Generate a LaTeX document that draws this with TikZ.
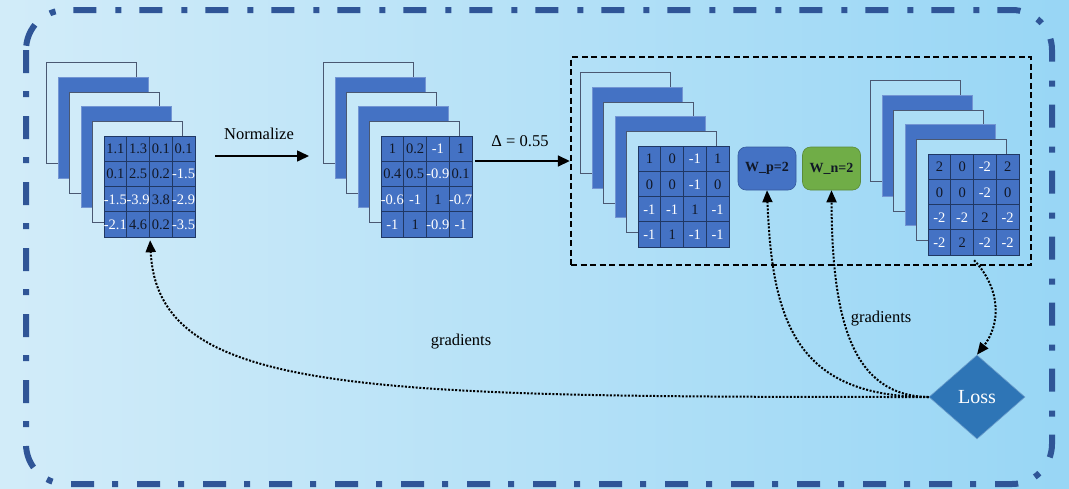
\documentclass[tikz,border=0pt]{standalone}
\usepackage{fontspec}
\setmainfont{Liberation Serif}
\usetikzlibrary{shapes.geometric,arrows.meta,calc}

\definecolor{bgL}{HTML}{D2ECF9}
\definecolor{bgR}{HTML}{98D6F5}
\definecolor{framecol}{HTML}{2F5597}
\definecolor{cellblue}{HTML}{4472C4}
\definecolor{cellline}{HTML}{203864}
\definecolor{sheetline}{HTML}{4A5872}
\definecolor{wngreen}{HTML}{70AD47}
\definecolor{lossblue}{HTML}{2E75B6}
\definecolor{darktxt}{HTML}{111827}

\tikzset{
  frameline/.style={draw=framecol, line width=6pt,
    dash pattern=on 23pt off 18pt on 6pt off 19pt, rounded corners=40pt},
  sheetpale/.style={draw=sheetline, line width=0.9pt, minimum width=90pt,
    minimum height=101pt, inner sep=0pt, anchor=north west},
  sheetblue/.style={fill=cellblue, draw=cellblue!75!white, line width=0.8pt,
    minimum width=90pt, minimum height=101pt, inner sep=0pt, anchor=north west},
  gridbox/.style={draw=cellline, fill=cellblue, line width=1.2pt,
    minimum width=91pt, minimum height=101pt, inner sep=0pt, anchor=north west},
  cellk/.style={text=darktxt, font=\fontsize{14.5}{14.5}\selectfont, inner sep=0pt},
  cellw/.style={cellk, text=white},
  lbl/.style={font=\fontsize{16.5}{18}\selectfont, inner sep=0pt},
  arr/.style={-{Triangle[length=12pt,width=11pt]}, line width=1.6pt},
  gradline/.style={line width=2pt, dash pattern=on 2pt off 1.6pt,
    -{Triangle[length=12pt,width=10pt]}},
  wbox/.style={rounded corners=8pt, minimum width=58pt, minimum height=43pt,
    font=\bfseries\fontsize{14}{14}\selectfont, text=darktxt, inner sep=0pt},
  dashbox/.style={draw=black, line width=2.4pt, dash pattern=on 6pt off 3.5pt,
    minimum width=460pt, minimum height=208pt, inner sep=0pt},
}

% A stack of five sheets with a 4x4 value grid on top.
% #1,#2: top-left of the rear sheet; #3: grid name; #4: pale sheet fill; #5: cells
\newcommand\layerstack[5]{%
  \foreach \k in {0,...,4} {
    \pgfmathsetmacro\sx{#1+11.6*\k}
    \pgfmathsetmacro\sy{#2+14.8*\k}
    \ifodd\k
      \node[sheetblue] (#3-s\k) at (\sx,\sy) {};
    \else
      \node[sheetpale, fill=#4] (#3-s\k) at (\sx,\sy) {};
    \fi
  }
  \node[gridbox] (#3) at (#1+58,#2+74) {};
  \foreach \i in {1,2,3}
    \draw[cellline, line width=0.8pt]
      ($(#3.north west)+(\i*22.75,0)$) -- ($(#3.south west)+(\i*22.75,0)$);
  \foreach \j/\w in {1/0.8,2/1.8,3/0.8}
    \draw[cellline, line width=\w pt]
      ($(#3.north west)+(0,\j*25.25)$) -- ($(#3.north east)+(0,\j*25.25)$);
  \foreach \c/\v [count=\n from 0] in {#5} {
    \pgfmathtruncatemacro\row{int(\n/4)}
    \pgfmathtruncatemacro\col{mod(\n,4)}
    \node[cell\c] (#3-\n) at ($(#3.north west)+(11.375+22.75*\col,13+25.25*\row)$) {\v};
  }
}

\begin{document}
\begin{tikzpicture}[x=1pt, y=-1pt]
\useasboundingbox (0,0) rectangle (1069,488);
\shade[left color=bgL, right color=bgR] (0,0) rectangle (1069,488);

% outer dash-dotted frame
\draw[frameline] (26,10) rectangle (1052,484);

% feature stacks
\layerstack{46}{62}{g1}{bgL!96!bgR}{k/1.1,k/1.3,k/0.1,k/0.1,k/0.1,k/2.5,k/0.2,w/-1.5,w/-1.5,w/-3.9,k/3.8,w/-2.9,w/-2.1,k/4.6,k/0.2,w/-3.5}
\layerstack{323}{62}{g2}{bgL!80!bgR}{k/1,k/0.2,w/-1,k/1,k/0.4,k/0.5,w/-0.9,k/0.1,w/-0.6,w/-1,k/1,w/-0.7,w/-1,k/1,w/-0.9,w/-1}

% quantisation block
\node[dashbox] (bx) at (801,161) {};
\layerstack{580}{72}{g3}{bgL!52!bgR}{k/1,k/0,w/-1,k/1,k/0,k/0,w/-1,k/0,w/-1,w/-1,k/1,w/-1,w/-1,k/1,w/-1,w/-1}
\layerstack{870}{80}{g4}{bgL!35!bgR}{k/2,k/0,w/-2,k/2,k/0,k/0,w/-2,k/0,w/-2,w/-2,k/2,w/-2,w/-2,k/2,w/-2,w/-2}

\node[wbox, fill=cellblue, draw=cellblue!80!black, line width=0.6pt] (wp) at (767,168.5) {W\_p=2};
\node[wbox, fill=wngreen, draw=wngreen!80!black, line width=0.6pt] (wn) at (831.5,168.5) {W\_n=2};

\node[diamond, fill=lossblue, draw=lossblue!70!white, line width=0.6pt,
      minimum width=96pt, minimum height=84pt, aspect=1.14, inner sep=0pt,
      text=white, font=\fontsize{20}{20}\selectfont] (loss) at (977,397) {Loss};

% forward arrows
\coordinate (nA) at (215,156);
\coordinate (nB) at (309,156);
\draw[arr] (nA) -- (nB);
\node[lbl] (tnorm) at (259,134) {Normalize};

\coordinate (dA) at (475,161);
\draw[arr] (dA) -- (bx.west);
\node[lbl] (tdelta) at (520,141) {Δ = 0.55};

% gradient paths
\draw[gradline] ([yshift=-4pt]g4.south) .. controls (1002,290) and (1000,325) .. (loss.north);
\draw[gradline] (loss.west) .. controls (360,397) and (158,395) .. ([yshift=-2pt]g1.south);
\draw[gradline] (loss.west) .. controls (795,397) and (772,320) .. (wp.south);
\draw[gradline] (loss.west) .. controls (852,396) and (832,320) .. (wn.south);

\node[lbl] (tgrad1) at (461,342) {gradients};
\node[lbl] (tgrad2) at (881,319) {gradients};
\end{tikzpicture}
\end{document}
